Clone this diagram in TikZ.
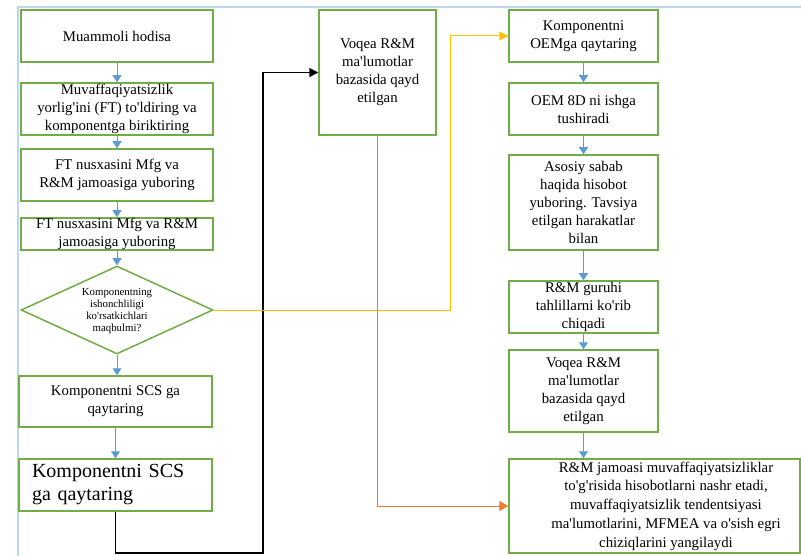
\documentclass[tikz,border=0pt]{standalone}
\usepackage{fontspec}
\setmainfont{Liberation Serif}[Ligatures=TeXOff]
\usetikzlibrary{arrows.meta,shapes.geometric}

\definecolor{boxgreen}{RGB}{112,173,71}
\definecolor{flowblue}{RGB}{91,155,213}
\definecolor{frameblue}{RGB}{189,215,238}
\definecolor{loglineorange}{RGB}{237,125,49}
\definecolor{okyellow}{RGB}{255,192,0}

\tikzset{
  stepbox/.style={draw=boxgreen, line width=1.5pt, rectangle, inner sep=0pt,
    align=center, font=\fontsize{14.8}{18}\selectfont},
  steptext/.style={inner sep=0pt, align=center, font=\fontsize{14.8}{18}\selectfont},
  decisionbox/.style={draw=boxgreen, line width=1.5pt, diamond, inner sep=0pt,
    minimum width=192pt, minimum height=88pt},
  flow/.style={draw=flowblue, line width=1pt, -{Triangle[length=7pt,width=9pt]}},
  backloop/.style={draw=black, line width=1.5pt, -{Triangle[length=9pt,width=9pt]}},
  yesline/.style={draw=okyellow, line width=1pt, -{Triangle[length=9pt,width=9pt]}},
  logline/.style={draw=loglineorange, line width=1pt, -{Triangle[length=9pt,width=10pt]}},
}

\begin{document}
\begin{tikzpicture}[x=1pt, y=-1pt]
\useasboundingbox (0,0) rectangle (801,556);

% canvas frame
\draw[frameblue, line width=2pt] (801,7.5) -- (17.5,7.5) -- (17.5,556);

% left column
\node[stepbox, minimum width=192pt, minimum height=52pt] (b1) at (117,36) {Muammoli hodisa};
\node[stepbox, minimum width=192pt, minimum height=52pt] (b2) at (117,109)
  {Muvaffaqiyatsizlik\\ yorlig'ini (FT) to'ldiring va\\ komponentga biriktiring};
\node[stepbox, minimum width=192pt, minimum height=52pt] (b3) at (117,175)
  {FT nusxasini Mfg va\\ R\&M jamoasiga yuboring};
\node[stepbox, minimum width=192pt, minimum height=32pt] (b4) at (117,234)
  {FT nusxasini Mfg va R\&M\\ jamoasiga yuboring};
\node[decisionbox] (dia) at (117,310) {};
\node[inner sep=0pt, align=center, font=\fontsize{10.8}{12.2}\selectfont] (diatext) at (117,311)
  {Komponentning\\ ishonchliligi\\ ko'rsatkichlari\\ maqbulmi?};
\node[stepbox, minimum width=193pt, minimum height=51pt] (b5) at (115.5,401.5)
  {Komponentni SCS ga\\ qaytaring};
\node[stepbox, text width=167pt, inner xsep=13pt, minimum height=52pt, align=left,
  font=\fontsize{20}{23}\selectfont] (b6) at (115.5,485)
  {Komponentni SCS\\ ga qaytaring};

% middle record box
\node[stepbox, minimum width=117pt, minimum height=125pt] (m1) at (377.5,72.5)
  {Voqea R\&M\\ ma'lumotlar\\ bazasida qayd\\ etilgan};

% right column
\node[stepbox, minimum width=149pt, minimum height=52pt] (r1) at (583.5,36)
  {Komponentni\\ OEMga qaytaring};
\node[stepbox, minimum width=149pt, minimum height=52pt] (r2) at (583.5,109)
  {OEM 8D ni ishga\\ tushiradi};
\node[stepbox, minimum width=149pt, minimum height=95pt] (r3) at (583.5,202.5)
  {Asosiy sabab\\ haqida hisobot\\ yuboring. Tavsiya\\ etilgan harakatlar\\ bilan};
\node[stepbox, minimum width=149pt, minimum height=52pt] (r4) at (583.5,307)
  {R\&M guruhi\\ tahlillarni ko'rib\\ chiqadi};
\node[stepbox, minimum width=149pt, minimum height=82pt] (r5) at (583.5,391)
  {Voqea R\&M\\ ma'lumotlar\\ bazasida qayd\\ etilgan};
\node[stepbox, minimum width=291pt, minimum height=94pt] (r6) at (654.5,506) {};
\node[steptext, font=\fontsize{14.8}{18.8}\selectfont] (r6text) at (666,506)
  {R\&M jamoasi muvaffaqiyatsizliklar\\ to'g'risida hisobotlarni nashr etadi,\\
   muvaffaqiyatsizlik tendentsiyasi\\ ma'lumotlarini, MFMEA va o'sish egri\\
   chiziqlarini yangilaydi};

% main flow
\draw[flow] (b1) -- (b2);
\draw[flow] (b2) -- (b3);
\draw[flow] (b3) -- (b4);
\draw[flow] (b4) -- (dia);
\draw[flow] (dia.south) -- (dia.south |- b5.north);
\draw[flow] (b5) -- (b6);

\draw[flow] (r1) -- (r2);
\draw[flow] (r2) -- (r3);
\draw[flow] (r3) -- (r4);
\draw[flow] (r4) -- (r5);
\draw[flow] (r5.south) -- (r5.south |- r6.north);

% loop back to the record box
\coordinate (loopcorner) at (263,553);
\draw[backloop] (b6.south) |- (loopcorner) |- (m1.west);

% acceptable reliability branch
\coordinate (yescorner) at (450,310);
\draw[yesline] (dia.east) -- (yescorner) |- (r1.west);

% record box to the report box
\draw[logline] (m1.south) |- (r6.west);
\end{tikzpicture}
\end{document}
